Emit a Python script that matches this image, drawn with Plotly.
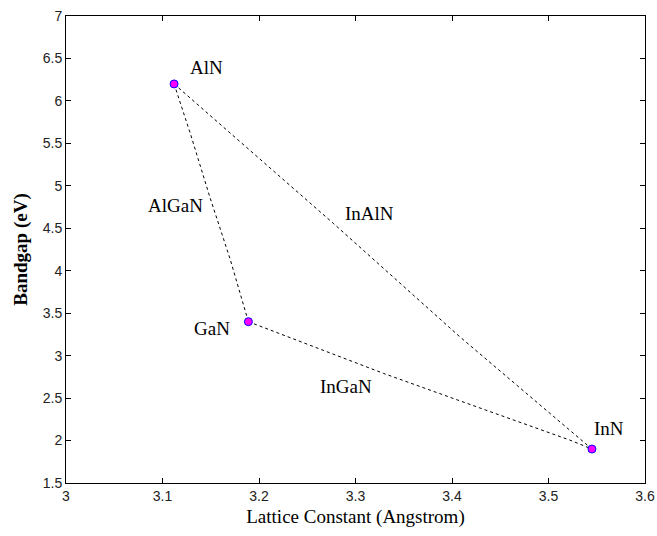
import plotly.graph_objects as go

# Binary compounds
compounds = ["AlN", "GaN", "InN"]
lattice = [3.112, 3.189, 3.545]
bandgap = [6.2, 3.4, 1.9]

# Ternary curves
algan_x = [3.112, 3.129, 3.149, 3.170, 3.189]
algan_y = [6.2, 5.61, 4.87, 4.14, 3.4]
ingan_x = [3.189, 3.256, 3.329, 3.401, 3.474, 3.522, 3.545]
ingan_y = [3.4, 3.105, 2.791, 2.497, 2.203, 2.006, 1.9]
inaln_x = [3.112, 3.277, 3.408, 3.545]
inaln_y = [6.2, 4.558, 3.223, 1.9]

# Text labels
label_text = ["AlN", "GaN", "InN", "AlGaN", "InGaN", "InAlN"]
label_x = [3.146, 3.151, 3.563, 3.113, 3.290, 3.314]
label_y = [6.39, 3.325, 2.14, 4.77, 2.64, 4.67]

fig = go.Figure()
line_style = dict(color="black", width=1, dash="3px,3px")
for xs, ys in [(algan_x, algan_y), (ingan_x, ingan_y), (inaln_x, inaln_y)]:
    fig.add_trace(go.Scatter(x=xs, y=ys, mode="lines", line=line_style,
                             showlegend=False, hoverinfo="skip"))

fig.add_trace(go.Scatter(x=lattice, y=bandgap, mode="markers",
                         marker=dict(size=8, color="magenta",
                                     line=dict(color="blue", width=1)),
                         showlegend=False, text=compounds))

for t, x, y in zip(label_text, label_x, label_y):
    fig.add_annotation(x=x, y=y, text=t, showarrow=False,
                       font=dict(family="Liberation Serif", size=19, color="black"))

axis_common = dict(showline=True, linecolor="black", linewidth=1, mirror="allticks",
                   ticks="inside", ticklen=5, tickcolor="black", showgrid=False,
                   zeroline=False, automargin=False,
                   tickfont=dict(family="Liberation Sans", size=14, color="#222"))

fig.update_xaxes(range=[3, 3.6], dtick=0.1, tickformat="~g",
                 title=dict(text="Lattice Constant (Angstrom)",
                            font=dict(family="Liberation Serif", size=19, color="black"),
                            standoff=6),
                 **axis_common)
fig.update_yaxes(range=[1.5, 7], dtick=0.5, tickformat="~g",
                 title=dict(text="<b>Bandgap (eV)</b>",
                            font=dict(family="Liberation Serif", size=19, color="black"),
                            standoff=10),
                 **axis_common)

fig.update_layout(width=657, height=536,
                  margin=dict(l=66, r=12, t=16, b=53),
                  paper_bgcolor="white", plot_bgcolor="white")

fig.write_html("out.html")
